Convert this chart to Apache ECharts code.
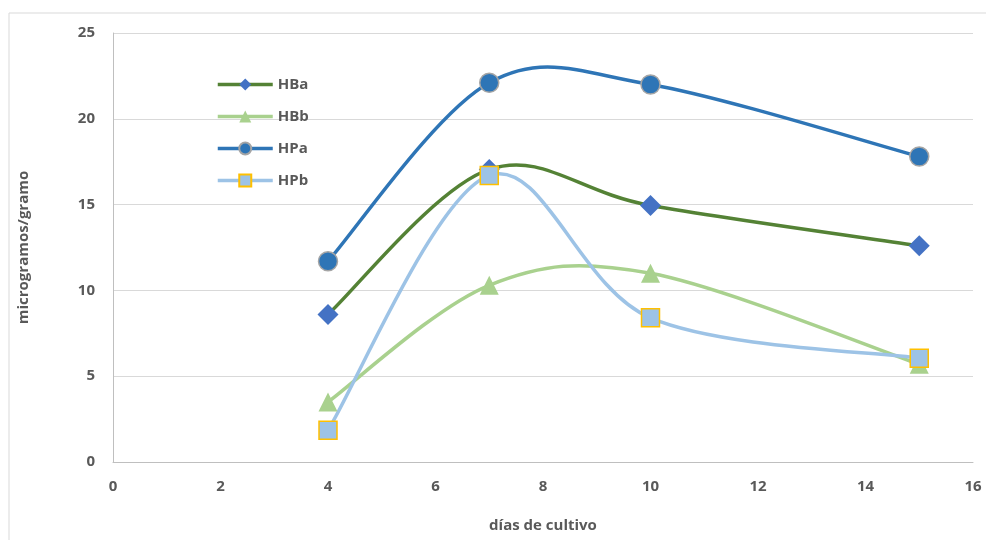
<!DOCTYPE html>
<html><head><meta charset="utf-8">
<script src="https://cdn.jsdelivr.net/npm/echarts@6/dist/echarts.min.js"></script>
<style>html,body{margin:0;padding:0;background:#fff}#c{width:986px;height:540px}</style>
</head><body><div id="c"></div>
<script>
const dias = [4, 7, 10, 15];
const HBa = [8.6, 17.05, 14.95, 12.6];
const HBb = [3.5, 10.3, 11.0, 5.7];
const HPa = [11.7, 22.1, 22.0, 17.8];
const HPb = [1.85, 16.7, 8.4, 6.05];
const seriesNames = ['HBa', 'HBb', 'HPa', 'HPb'];

const font = '"Open Sans", "Liberation Sans", sans-serif';
const txt = '#595959';
const lineColors = {HBa:'#548235', HBb:'#A9D18E', HPa:'#2E75B6', HPb:'#9DC3E6'};
const valuesByName = {HBa:HBa, HBb:HBb, HPa:HPa, HPb:HPb};
function pts(v){ return dias.map((d,i)=>[d, v[i]]); }

// Smoothed line (Catmull-Rom style) between data points,
// positions obtained through the chart's own axes via api.coord.
function curveSeries(name){
  const vals = valuesByName[name];
  return {
    name: name + '_curve', type:'custom', z:1, silent:true, legendHoverLink:false,
    data: pts(vals),
    renderItem: function(params, api){
      const i = params.dataIndex;
      const n = dias.length;
      if (i >= n - 1) return null;
      const P = dias.map((d,k)=>api.coord([d, vals[k]]));
      const p0 = P[Math.max(i-1,0)], p1 = P[i], p2 = P[i+1], p3 = P[Math.min(i+2,n-1)];
      const c1 = [p1[0] + (p2[0]-p0[0])/6, p1[1] + (p2[1]-p0[1])/6];
      const c2 = [p2[0] - (p3[0]-p1[0])/6, p2[1] - (p3[1]-p1[1])/6];
      return {
        type:'bezierCurve',
        shape:{x1:p1[0], y1:p1[1], x2:p2[0], y2:p2[1], cpx1:c1[0], cpy1:c1[1], cpx2:c2[0], cpy2:c2[1]},
        style:{stroke:lineColors[name], lineWidth:3.5, fill:null, lineCap:'round'}
      };
    }
  };
}

const markerDefs = {
  HBa:{symbol:'diamond', size:21, itemStyle:{color:'#4472C4'}},
  HBb:{symbol:'triangle', size:19, itemStyle:{color:'#A9D18E'}},
  HPa:{symbol:'circle', size:19, itemStyle:{color:'#2E75B6', borderColor:'#A5A5A5', borderWidth:1.5}},
  HPb:{symbol:'rect', size:18, itemStyle:{color:'#9DC3E6', borderColor:'#FFC000', borderWidth:1.5}}
};

const series = [];
seriesNames.forEach(n => series.push(curveSeries(n)));
seriesNames.forEach(n => series.push({
  name:n, type:'line', z:3, data:pts(valuesByName[n]),
  symbol:markerDefs[n].symbol, symbolSize:markerDefs[n].size, showSymbol:true,
  lineStyle:{width:0, opacity:0, color:lineColors[n]},
  itemStyle:markerDefs[n].itemStyle
}));

const chart = echarts.init(document.getElementById('c'), null, {renderer:'canvas'});
chart.setOption({
  animation:false,
  backgroundColor:'#fff',
  graphic:[{type:'rect', shape:{x:9, y:13, width:1100, height:700}, style:{fill:'none', stroke:'#d9d9d9', lineWidth:1}, z:-10, silent:true}],
  grid:{left:113, right:13, top:33, bottom:78},
  legend:{
    orient:'vertical', left:211, top:72, itemWidth:55, itemHeight:15, itemGap:17,
    textStyle:{color:txt, fontFamily:font, fontWeight:'bold', fontSize:15},
    data: seriesNames.map(n => ({name:n, lineStyle:{color:lineColors[n], width:3.5, opacity:1}}))
  },
  xAxis:{
    type:'value', min:0, max:16, interval:2,
    name:'días de cultivo', nameLocation:'middle', nameGap:56,
    nameTextStyle:{color:txt, fontFamily:font, fontWeight:'bold', fontSize:15},
    axisLine:{show:true, lineStyle:{color:'#bfbfbf', width:1}},
    axisTick:{show:false},
    axisLabel:{color:txt, fontFamily:font, fontWeight:'bold', fontSize:15, margin:17},
    splitLine:{show:false}
  },
  yAxis:{
    type:'value', min:0, max:25, interval:5,
    name:'microgramos/gramo', nameLocation:'middle', nameGap:82,
    nameTextStyle:{color:txt, fontFamily:font, fontWeight:'bold', fontSize:15},
    axisLine:{show:true, lineStyle:{color:'#bfbfbf', width:1}},
    axisTick:{show:false},
    axisLabel:{color:txt, fontFamily:font, fontWeight:'bold', fontSize:15, margin:18},
    splitLine:{show:true, lineStyle:{color:'#d9d9d9', width:1}}
  },
  series: series
});
</script></body></html>
